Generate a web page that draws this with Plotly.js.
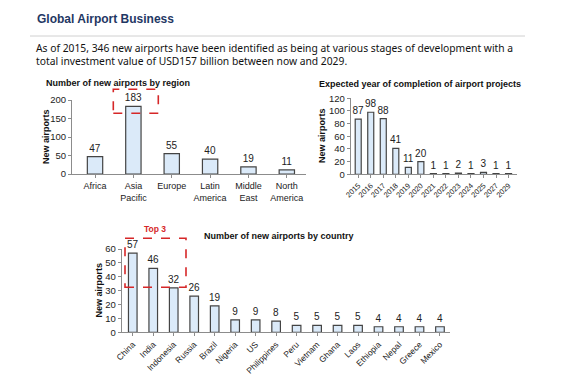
<!DOCTYPE html>
<html>
<head>
<meta charset="utf-8">
<script src="https://cdn.plot.ly/plotly-3.0.1.min.js"></script>
<style>html,body{margin:0;padding:0;background:#fff;}#chart{width:562px;height:380px;}</style>
</head>
<body>
<div id="chart"></div>
<script>
// ---- data ----
const regionCats = ["Africa", "Asia<br>Pacific", "Europe", "Latin<br>America", "Middle<br>East", "North<br>America"];
const regionVals = [47, 183, 55, 40, 19, 11];

const yearCats = ["2015", "2016", "2017", "2018", "2019", "2020", "2021", "2022", "2023", "2024", "2025", "2027", "2029"];
const yearVals = [87, 98, 88, 41, 11, 20, 1, 1, 2, 1, 3, 1, 1];

const countryCats = ["China", "India", "Indonesia", "Russia", "Brazil", "Nigeria", "US", "Philippines", "Peru", "Vietnam", "Ghana", "Laos", "Ethiopia", "Nepal", "Greece", "Mexico"];
const countryVals = [57, 46, 32, 26, 19, 9, 9, 8, 5, 5, 5, 5, 4, 4, 4, 4];

// ---- helpers ----
const W = 562, H = 380;
const px = x => x / W;
const py = y => 1 - y / H;
const FONT = "Liberation Sans, Arial, sans-serif";
const fill = "#dbeaf9";
const edge = "#444444";

function bar(x, y, xa, ya, width) {
  return {
    type: "bar", x: x, y: y, xaxis: xa, yaxis: ya, width: width,
    marker: {color: fill, line: {color: edge, width: 1.2}},
    text: y.map(String), textposition: "outside", cliponaxis: false,
    constraintext: "none", textangle: 0,
    textfont: {family: FONT, size: 10, color: "#222"},
    hoverinfo: "skip", showlegend: false
  };
}

const data = [
  bar(regionCats, regionVals, "x", "y", 0.4),
  bar(yearCats, yearVals, "x2", "y2", 0.48),
  bar(countryCats, countryVals, "x3", "y3", 0.42)
];

function xax(domain, range, extra) {
  return Object.assign({
    domain: domain, range: range, type: "category",
    showline: true, linecolor: "#8c8c8c", linewidth: 1,
    ticks: "outside", ticklen: 3, tickcolor: "#8c8c8c",
    showgrid: false, zeroline: false, fixedrange: true,
    tickfont: {family: FONT, size: 9, color: "#222"}
  }, extra || {});
}
function yax(domain, range, dtick, anchor) {
  return {
    domain: domain, range: range, dtick: dtick, anchor: anchor,
    showline: true, linecolor: "#8c8c8c", linewidth: 1,
    ticks: "outside", ticklen: 3, tickcolor: "#8c8c8c",
    showgrid: false, zeroline: false, fixedrange: true,
    tickfont: {family: FONT, size: 9.5, color: "#222"}
  };
}

const layout = {
  width: W, height: H,
  margin: {l: 0, r: 0, t: 0, b: 0},
  paper_bgcolor: "#fff", plot_bgcolor: "#fff",
  bargap: 0.5,
  xaxis: xax([px(72), px(306)], [-0.6, 5.5], {anchor: "y", tickangle: 0}),
  yaxis: yax([py(174), py(100)], [0, 200], 50, "x"),
  xaxis2: xax([px(350.7), px(516.7)], [-0.6, 12.65], {anchor: "y2", tickangle: -45, tickfont: {family: FONT, size: 7.5, color: "#222"}}),
  yaxis2: yax([py(174.3), py(98.3)], [0, 120], 20, "x2"),
  xaxis3: xax([px(121.7), px(450)], [-0.54, 15.49], {anchor: "y3", tickangle: -45, tickfont: {family: FONT, size: 8.5, color: "#222"}}),
  yaxis3: yax([py(332.3), py(249)], [0, 60], 10, "x3"),
  shapes: [
    {type: "line", xref: "paper", yref: "paper", x0: px(30), x1: px(525), y0: py(36), y1: py(36),
     line: {color: "#d0d0d0", width: 1}},
    {type: "rect", xref: "paper", yref: "paper", x0: px(113.3), x1: px(158.3), y0: py(113.3), y1: py(89.3),
     line: {color: "#d62728", width: 1.6, dash: "dash"}},
    {type: "rect", xref: "paper", yref: "paper", x0: px(125), x1: px(186), y0: py(287.3), y1: py(238.3),
     line: {color: "#d62728", width: 1.6, dash: "dash"}}
  ],
  annotations: [
    {text: "<b>Global Airport Business</b>", x: px(35), y: py(19), xref: "paper", yref: "paper",
     xanchor: "left", yanchor: "middle", showarrow: false,
     font: {family: FONT, size: 12, color: "#1f3864"}},
    {text: "As of 2015, 346 new airports have been identified as being at various stages of development with a<br>total investment value of USD157 billion between now and 2029.",
     x: px(34), y: py(54), xref: "paper", yref: "paper", xanchor: "left", yanchor: "middle", align: "left", showarrow: false,
     font: {family: "Noto Sans, DejaVu Sans, sans-serif", size: 10.3, color: "#111"}},
    {text: "<b>Number of new airports by region</b>", x: px(44), y: py(83.5), xref: "paper", yref: "paper",
     xanchor: "left", yanchor: "middle", showarrow: false, font: {family: FONT, size: 9, color: "#111"}},
    {text: "<b>Expected year of completion of airport projects</b>", x: px(316.5), y: py(84), xref: "paper", yref: "paper",
     xanchor: "left", yanchor: "middle", showarrow: false, font: {family: FONT, size: 9, color: "#111"}},
    {text: "<b>Number of new airports by country</b>", x: px(201.5), y: py(235.5), xref: "paper", yref: "paper",
     xanchor: "left", yanchor: "middle", showarrow: false, font: {family: FONT, size: 9, color: "#111"}},
    {text: "<b>Top 3</b>", x: px(155), y: py(229), xref: "paper", yref: "paper",
     xanchor: "center", yanchor: "middle", showarrow: false, font: {family: FONT, size: 8.5, color: "#d62728"}},
    {text: "<b>New airports</b>", x: px(46), y: py(137), xref: "paper", yref: "paper", textangle: -90,
     xanchor: "center", yanchor: "middle", showarrow: false, font: {family: FONT, size: 9, color: "#111"}},
    {text: "<b>New airports</b>", x: px(322), y: py(136), xref: "paper", yref: "paper", textangle: -90,
     xanchor: "center", yanchor: "middle", showarrow: false, font: {family: FONT, size: 9, color: "#111"}},
    {text: "<b>New airports</b>", x: px(98.5), y: py(290), xref: "paper", yref: "paper", textangle: -90,
     xanchor: "center", yanchor: "middle", showarrow: false, font: {family: FONT, size: 9, color: "#111"}}
  ]
};

Plotly.newPlot("chart", data, layout, {staticPlot: true, displayModeBar: false});
</script>
</body>
</html>
